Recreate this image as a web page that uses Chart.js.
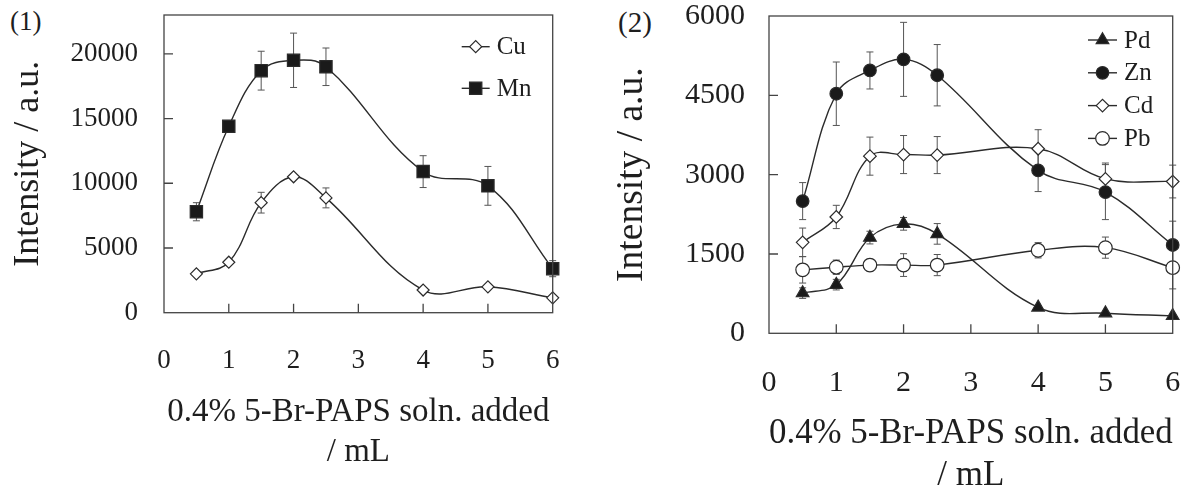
<!DOCTYPE html>
<html>
<head>
  <title>5-Br-PAPS addition vs intensity</title>
<script src="https://cdn.jsdelivr.net/npm/chart.js"></script>
</head>
<style>
body {
  margin: 0;
  background: #fff;
  width: 1184px;
  height: 490px;
  overflow: hidden;
  position: relative;
  font-family: "Liberation Serif", "Times New Roman", serif;
  color: #1e1e1e;
}
canvas {
  position: absolute;
  top: 0;
}
#c1 { left: 0; }
#c2 { left: 592px; }
.tag {
  position: absolute;
  line-height: 1;
}
#tag1 { left: 10px; top: 8px; font-size: 27px; }
#tag2 { left: 618px; top: 8px; font-size: 29px; }
</style>
<body>
<div class="tag" id="tag1">(1)</div>
<div class="tag" id="tag2">(2)</div>
<canvas id="c1" width="592" height="490"></canvas>
<canvas id="c2" width="592" height="490"></canvas>
</body>
<script>
// volume of 0.4% 5-Br-PAPS solution added (mL)
const volumes = [0.5, 1, 1.5, 2, 2.5, 4, 5, 6];
const xTicks = [0, 1, 2, 3, 4, 5, 6];

// panel (1)
const yTicks1 = [0, 5000, 10000, 15000, 20000];
const cuValues = [3000, 3900, 8500, 10500, 8870, 1750, 2000, 1150];
const cuErrors = [0, 0, 800, 0, 770, 0, 0, 0];
const mnValues = [7800, 14400, 18700, 19500, 19000, 10900, 9800, 3400];
const mnErrors = [700, 300, 1500, 2100, 1450, 1230, 1500, 620];

// panel (2)
const yTicks2 = [0, 1500, 3000, 4500, 6000];
const pdValues = [760, 920, 1810, 2070, 1880, 490, 380, 330];
const pdErrors = [100, 100, 120, 120, 195, 0, 0, 0];
const znValues = [2500, 4530, 4970, 5180, 4880, 3080, 2670, 1670];
const znErrors = [350, 600, 350, 700, 580, 400, 520, 450];
const cdValues = [1720, 2200, 3350, 3380, 3370, 3490, 2920, 2870];
const cdErrors = [270, 220, 360, 360, 350, 360, 300, 310];
const pbValues = [1200, 1250, 1290, 1290, 1290, 1570, 1620, 1240];
const pbErrors = [250, 135, 110, 215, 200, 145, 200, 400];

const ink = '#1e1e1e';
const lineInk = '#2b2b2b';
const serif = '"Liberation Serif", "Times New Roman", serif';

function series(label, values, errors, style, radius, filled) {
  return {
    label: label,
    data: volumes.map((v, i) => ({x: v, y: values[i]})),
    errors: errors,
    borderColor: lineInk,
    borderWidth: 1.4,
    tension: 0.38,
    pointStyle: style,
    pointRadius: radius,
    pointBorderWidth: 1.2,
    pointBorderColor: lineInk,
    pointBackgroundColor: filled ? '#1a1a1a' : '#ffffff',
    clip: false
  };
}

// error bars, frame and inward tick marks
const framePlugin = {
  id: 'frame',
  beforeDatasetsDraw(chart) {
    const {ctx, scales: {x, y}} = chart;
    ctx.save();
    ctx.strokeStyle = '#555';
    ctx.lineWidth = 1;
    chart.data.datasets.forEach(ds => {
      ds.data.forEach((p, j) => {
        const e = ds.errors[j];
        if (!e) return;
        const px = x.getPixelForValue(p.x);
        const t = y.getPixelForValue(p.y + e);
        const b = y.getPixelForValue(p.y - e);
        ctx.beginPath();
        ctx.moveTo(px, t); ctx.lineTo(px, b);
        ctx.moveTo(px - 3.5, t); ctx.lineTo(px + 3.5, t);
        ctx.moveTo(px - 3.5, b); ctx.lineTo(px + 3.5, b);
        ctx.stroke();
      });
    });
    ctx.restore();
  },
  afterDraw(chart) {
    const {ctx, chartArea: a, scales: {x, y}} = chart;
    ctx.save();
    ctx.strokeStyle = '#444';
    ctx.lineWidth = 1.3;
    ctx.strokeRect(a.left, a.top, a.right - a.left, a.bottom - a.top);
    ctx.beginPath();
    x.ticks.forEach(t => {
      const px = x.getPixelForValue(t.value);
      if (px <= a.left + 1 || px >= a.right - 1) return;
      ctx.moveTo(px, a.bottom); ctx.lineTo(px, a.bottom - 9);
    });
    y.ticks.forEach(t => {
      const py = y.getPixelForValue(t.value);
      if (py >= a.bottom - 1 || py <= a.top + 1) return;
      ctx.moveTo(a.left, py); ctx.lineTo(a.left + 9, py);
    });
    ctx.stroke();
    ctx.restore();
  }
};

// legend inside the plot, line + marker + name
const innerLegend = {
  id: 'innerLegend',
  afterDraw(chart, args, opts) {
    const {ctx, chartArea: a} = chart;
    ctx.save();
    ctx.font = opts.fontSize + 'px ' + serif;
    ctx.textBaseline = 'middle';
    chart.data.datasets.forEach((ds, i) => {
      const yy = a.top + opts.rowTop + i * opts.rowGap;
      const x0 = a.right - opts.fromRight;
      ctx.strokeStyle = lineInk;
      ctx.lineWidth = 1.4;
      ctx.beginPath();
      ctx.moveTo(x0, yy); ctx.lineTo(x0 + opts.lineLen, yy);
      ctx.stroke();
      ctx.fillStyle = ds.pointBackgroundColor;
      ctx.strokeStyle = ds.pointBorderColor;
      ctx.lineWidth = ds.pointBorderWidth;
      Chart.helpers.drawPoint(ctx, {pointStyle: ds.pointStyle, radius: ds.pointRadius, rotation: 0, borderWidth: ds.pointBorderWidth}, x0 + opts.lineLen / 2, yy);
      ctx.fillStyle = ink;
      ctx.fillText(ds.label, x0 + opts.lineLen + 7, yy + 1);
    });
    ctx.restore();
  }
};

function panel(id, datasets, yTicks, p) {
  return new Chart(document.getElementById(id), {
    type: 'line',
    data: {datasets: datasets},
    plugins: [framePlugin, innerLegend],
    options: {
      responsive: false,
      animation: false,
      devicePixelRatio: 1,
      layout: {padding: {left: 0, top: p.top, right: p.right, bottom: 0}},
      plugins: {
        legend: {display: false},
        tooltip: {enabled: false},
        innerLegend: p.legend
      },
      scales: {
        x: {
          type: 'linear',
          min: 0,
          max: 6,
          grid: {display: false, drawTicks: true, tickLength: p.xGap},
          border: {display: false},
          afterBuildTicks(s) { s.ticks = xTicks.map(v => ({value: v})); },
          ticks: {padding: 0, color: ink, font: {family: serif, size: p.tickSize, lineHeight: 1}, callback: v => String(v)},
          title: {
            display: true,
            text: ['0.4% 5-Br-PAPS soln. added', '/ mL'],
            color: ink,
            font: {family: serif, size: p.xTitleSize, lineHeight: p.xTitleLine},
            padding: {top: 0, bottom: p.xTitlePad}
          },
          afterFit(s) { s.height = p.xHeight; }
        },
        y: {
          min: 0,
          max: p.yMax,
          grid: {display: false, drawTicks: true, tickLength: p.yGap},
          border: {display: false},
          afterBuildTicks(s) { s.ticks = yTicks.map(v => ({value: v})); },
          ticks: {padding: 0, color: ink, font: {family: serif, size: p.tickSize, lineHeight: 1}, callback: v => String(v)},
          title: {
            display: true,
            text: 'Intensity / a.u.',
            color: ink,
            font: {family: serif, size: p.yTitleSize, lineHeight: 1},
            padding: {top: p.yTitlePad, bottom: 0}
          },
          afterFit(s) { s.width = p.yWidth; }
        }
      }
    }
  });
}

panel('c1', [
  series('Cu', cuValues, cuErrors, 'rectRot', 6, false),
  series('Mn', mnValues, mnErrors, 'rect', 8.7, true)
], yTicks1, {
  top: 15, right: 39.3, yWidth: 164, xHeight: 177.3,
  yMax: 23000, tickSize: 27, xGap: 35, yGap: 26,
  xTitleSize: 33, xTitleLine: '40px', xTitlePad: 18,
  yTitleSize: 36, yTitlePad: 11,
  legend: {fontSize: 25, fromRight: 91, lineLen: 28, rowTop: 31.7, rowGap: 41.6}
});

panel('c2', [
  series('Pd', pdValues, pdErrors, 'triangle', 7.3, true),
  series('Zn', znValues, znErrors, 'circle', 6.3, true),
  series('Cd', cdValues, cdErrors, 'rectRot', 6.3, false),
  series('Pb', pbValues, pbErrors, 'circle', 6.8, false)
], yTicks2, {
  top: 16, right: 11.3, yWidth: 177, xHeight: 156.7,
  yMax: 6000, tickSize: 30, xGap: 35, yGap: 24,
  xTitleSize: 35, xTitleLine: '42px', xTitlePad: -7,
  yTitleSize: 37.5, yTitlePad: 21.5,
  legend: {fontSize: 25, fromRight: 84.7, lineLen: 29, rowTop: 24, rowGap: 32.8}
});
</script>
</html>
